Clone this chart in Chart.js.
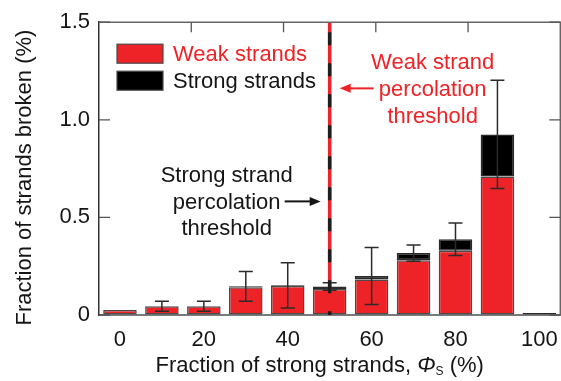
<!DOCTYPE html>
<html>
<head>
<meta charset="utf-8">
<script src="https://cdn.jsdelivr.net/npm/chart.js@4.4.1/dist/chart.umd.min.js"></script>
<style>
  html, body { margin: 0; padding: 0; overflow: hidden; background: #fff; }
  #wrap { width: 570px; height: 381px; }
</style>
</head>
<body>
<div id="wrap"><canvas id="c" width="570" height="381"></canvas></div>
<script>
// Fraction of strong strands in the network (%)
const strongFraction = ['0', '10', '20', '30', '40', '50', '60', '70', '80', '90', '100'];
// Fraction of strands broken (%), split by strand type
const weakBroken   = [0.025, 0.045, 0.045, 0.142, 0.148, 0.133, 0.182, 0.280, 0.329, 0.710, 0];
const strongBroken = [0,     0,     0,     0.005, 0.004, 0.013, 0.018, 0.037, 0.059, 0.215, 0.01];
// Standard deviation of the total broken fraction
const brokenError  = [0,     0.026, 0.026, 0.076, 0.116, 0.019, 0.146, 0.042, 0.083, 0.277, 0];
const yTicks = [0, 0.5, 1.0, 1.5];
const thresholdAt = '50';

const FONT = '"Liberation Sans", Arial, Helvetica, sans-serif';
const RED = '#ee2327';
const EDGE = '#4a4a4a';
const INK = '#151515';

function arrow(ctx, x0, x1, y, color) {
  const dir = Math.sign(x1 - x0);
  ctx.save();
  ctx.strokeStyle = color; ctx.fillStyle = color; ctx.lineWidth = 2;
  ctx.beginPath(); ctx.moveTo(x0, y); ctx.lineTo(x1 - dir * 8, y); ctx.stroke();
  ctx.beginPath();
  ctx.moveTo(x1, y); ctx.lineTo(x1 - dir * 11, y - 4.5); ctx.lineTo(x1 - dir * 11, y + 4.5);
  ctx.closePath(); ctx.fill();
  ctx.restore();
}

const decor = {
  id: 'decor',
  afterDatasetsDraw(chart) {
    const { ctx, chartArea: a, scales: { x, y } } = chart;
    // error bars on the stacked totals
    ctx.save();
    ctx.strokeStyle = '#2b2b2b'; ctx.lineWidth = 1.5;
    strongFraction.forEach((_, i) => {
      const e = brokenError[i];
      if (!e) return;
      const total = weakBroken[i] + strongBroken[i];
      const px = x.getPixelForValue(i);
      const yt = y.getPixelForValue(total + e), yb = y.getPixelForValue(total - e);
      ctx.beginPath();
      ctx.moveTo(px, yt); ctx.lineTo(px, yb);
      ctx.moveTo(px - 7, yt); ctx.lineTo(px + 7, yt);
      ctx.moveTo(px - 7, yb); ctx.lineTo(px + 7, yb);
      ctx.stroke();
    });
    ctx.restore();

    // percolation threshold line (red/black dashes)
    const lx = x.getPixelForValue(strongFraction.indexOf(thresholdAt));
    ctx.save();
    ctx.lineWidth = 3.5;
    ctx.strokeStyle = RED;
    ctx.beginPath(); ctx.moveTo(lx, a.top); ctx.lineTo(lx, a.bottom); ctx.stroke();
    ctx.strokeStyle = '#1e1e1e';
    ctx.setLineDash([13, 18]);
    ctx.lineDashOffset = -10;
    ctx.beginPath(); ctx.moveTo(lx, a.top); ctx.lineTo(lx, a.bottom); ctx.stroke();
    ctx.restore();
  },
  afterDraw(chart) {
    const { ctx, chartArea: a, scales: { x, y } } = chart;
    ctx.save();
    // top and right frame
    ctx.strokeStyle = '#666'; ctx.lineWidth = 1.5;
    ctx.beginPath();
    ctx.moveTo(a.left, a.top); ctx.lineTo(a.right, a.top); ctx.lineTo(a.right, a.bottom);
    ctx.stroke();
    // inward tick marks
    ctx.strokeStyle = '#555'; ctx.lineWidth = 1.3;
    ctx.beginPath();
    yTicks.forEach(v => {
      const py = y.getPixelForValue(v);
      ctx.moveTo(a.left, py); ctx.lineTo(a.left + 11, py);
      ctx.moveTo(a.right, py); ctx.lineTo(a.right - 11, py);
    });
    for (let k = 1; k < 5; k++) {
      const px = x.getPixelForDecimal(k / 5);
      ctx.moveTo(px, a.top); ctx.lineTo(px, a.top + 10);
    }
    ctx.stroke();

    // legend
    ctx.font = '22px ' + FONT;
    ctx.textBaseline = 'middle';
    chart.data.datasets.forEach((ds, i) => {
      const bx = a.left + 18, by = a.top + 22 + i * 27;
      ctx.fillStyle = ds.backgroundColor;
      ctx.fillRect(bx, by, 46, 19);
      ctx.strokeStyle = EDGE; ctx.lineWidth = 1.2;
      ctx.strokeRect(bx, by, 46, 19);
      ctx.fillStyle = i === 0 ? RED : INK;
      ctx.fillText(ds.label, bx + 56, by + 10.5);
    });

    // threshold annotations
    const lx = x.getPixelForValue(strongFraction.indexOf(thresholdAt));
    ctx.textAlign = 'center';
    ctx.textBaseline = 'alphabetic';
    ctx.fillStyle = RED;
    ['Weak strand', 'percolation', 'threshold'].forEach((t, k) => {
      ctx.fillText(t, lx + 103, y.getPixelForValue(1.258) + k * 26.6);
    });
    arrow(ctx, lx + 44, lx + 10, y.getPixelForValue(1.161), RED);
    ctx.fillStyle = INK;
    ['Strong strand', 'percolation', 'threshold'].forEach((t, k) => {
      ctx.fillText(t, lx - 103, y.getPixelForValue(0.679) + k * 26.4);
    });
    arrow(ctx, lx - 45, lx - 9, y.getPixelForValue(0.582), INK);

    // axis titles
    ctx.fillStyle = INK;
    ctx.textBaseline = 'middle';
    ctx.save();
    ctx.translate(25, (a.top + a.bottom) / 2 + 9);
    ctx.rotate(-Math.PI / 2);
    ctx.textAlign = 'center';
    ctx.font = '22px ' + FONT;
    ctx.fillText('Fraction of strands broken (%)', 0, 0);
    ctx.restore();

    const parts = [
      { t: 'Fraction of strong strands, ', f: '22px ' + FONT, dy: 0 },
      { t: 'Φ', f: 'italic 22px ' + FONT, dy: 0 },
      { t: 'S', f: '12px ' + FONT, dy: 6 },
      { t: ' (%)', f: '22px ' + FONT, dy: 0 }
    ];
    let total = 0;
    parts.forEach(p => { ctx.font = p.f; p.w = ctx.measureText(p.t).width; total += p.w; });
    let cx = (a.left + a.right) / 2 - 10 - total / 2;
    const ty = chart.height - 15;
    ctx.textAlign = 'left';
    parts.forEach(p => { ctx.font = p.f; ctx.fillText(p.t, cx, ty + p.dy); cx += p.w; });
    ctx.restore();
  }
};

new Chart(document.getElementById('c'), {
  type: 'bar',
  data: {
    labels: strongFraction,
    datasets: [
      { label: 'Weak strands', data: weakBroken, backgroundColor: RED,
        borderColor: EDGE, borderWidth: 1.5, borderSkipped: false },
      { label: 'Strong strands', data: strongBroken, backgroundColor: '#000',
        borderColor: '#2a2a2a', borderWidth: 1.5, borderSkipped: false }
    ]
  },
  options: {
    responsive: false,
    animation: false,
    layout: { padding: { top: 17, right: 6, left: 0, bottom: 0 } },
    datasets: { bar: { barPercentage: 0.8, categoryPercentage: 1.0 } },
    plugins: { legend: { display: false }, tooltip: { enabled: false } },
    scales: {
      x: {
        stacked: true,
        offset: true,
        grid: { drawOnChartArea: false, drawTicks: false },
        border: { color: '#7a7a7a', width: 2 },
        ticks: {
          autoSkip: false, maxRotation: 0, padding: 12, color: INK,
          font: { family: FONT, size: 22 },
          callback: (v, i) => (Number(strongFraction[i]) % 20 === 0 ? strongFraction[i] : '')
        },
        afterFit(s) { s.height = 66; }
      },
      y: {
        stacked: true,
        min: 0, max: 1.5,
        grid: { drawOnChartArea: false, drawTicks: false },
        border: { color: '#333', width: 1.5 },
        afterBuildTicks(s) { s.ticks = yTicks.map(v => ({ value: v })); },
        ticks: {
          padding: 9, color: INK,
          font: { family: FONT, size: 22 },
          callback: v => (v === 0 ? '0' : v.toFixed(1))
        },
        afterFit(s) { s.width = 99; }
      }
    }
  },
  plugins: [decor]
});
</script>
</body>
</html>
